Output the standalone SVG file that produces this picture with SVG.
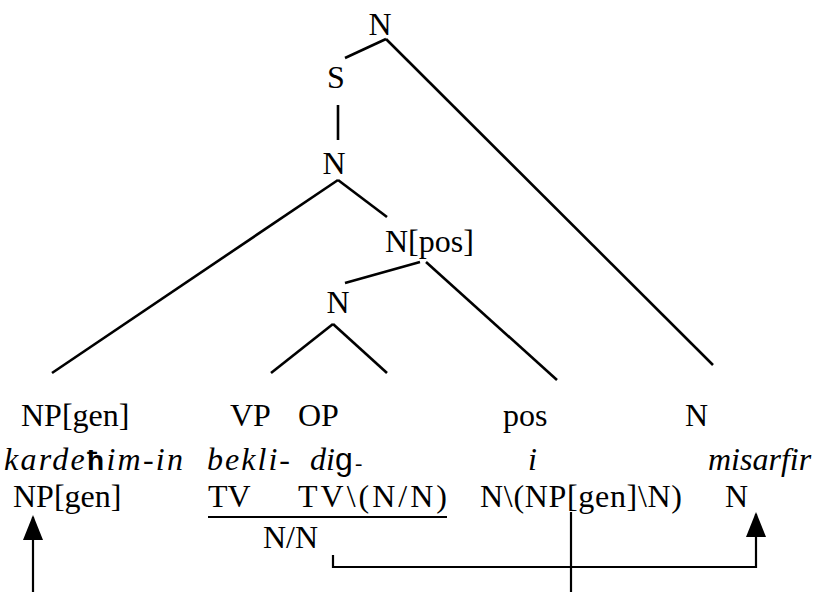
<svg xmlns="http://www.w3.org/2000/svg" width="816" height="592" viewBox="0 0 816 592">
<style>
.t{font-size:32px;fill:#000}
.it{font-style:italic}
.m{text-anchor:middle}
.br{stroke:#000;stroke-width:2.6;fill:none;stroke-linecap:butt}
.cn{stroke:#000;stroke-width:2.2;fill:none}
</style>
<defs>
<marker id="ah" markerUnits="userSpaceOnUse" viewBox="0 0 25 20" refX="23" refY="10" markerWidth="25" markerHeight="20" orient="auto">
<path d="M0,0 L25,10 L0,20 z" fill="#000"/>
</marker>
</defs>
<rect width="816" height="592" fill="#fff"/>
<g class="t" font-family="Liberation Serif, Times New Roman, Times, serif">
<g id="tree">
<g id="n-root"><text x="380" y="35" class="m">N</text></g>
<g id="n-s"><text x="336" y="88" class="m">S</text></g>
<g id="n-n1"><text x="334" y="174" class="m">N</text></g>
<g id="n-npos"><text x="385" y="252">N[pos]</text></g>
<g id="n-n2"><text x="338" y="313" class="m">N</text></g>
</g>
<g id="row1">
<g id="c1"><text x="21" y="426">NP[gen]</text></g>
<g id="c2"><text x="230" y="426">VP</text></g>
<g id="c3"><text x="298" y="426">OP</text></g>
<g id="c4"><text x="503" y="426">pos</text></g>
<g id="c5"><text x="685" y="426">N</text></g>
</g>
<g id="row2">
<g id="w1"><text x="4" y="470" class="it" textLength="179" lengthAdjust="spacing">karde<tspan font-family="Liberation Sans, Arial, sans-serif" font-style="normal" font-weight="bold" font-size="28">ħ</tspan>im-in</text></g>
<g id="w2"><text x="207" y="470" class="it" textLength="83" lengthAdjust="spacing">bekli-</text></g>
<g id="w3"><text x="310" y="470" class="it">di<tspan font-family="Liberation Sans, Arial, sans-serif" font-style="normal">g</tspan><tspan x="355" font-size="22">-</tspan></text></g>
<g id="w4"><text x="528" y="470" class="it">i</text></g>
<g id="w5"><text x="708" y="470" class="it">misarfir</text></g>
</g>
<g id="row3">
<g id="t1"><text x="13" y="507">NP[gen]</text></g>
<g id="t2"><text x="208" y="507">TV</text></g>
<g id="t3"><text x="298" y="507" textLength="149" lengthAdjust="spacing">TV\(N/N)</text></g>
<g id="t4"><text x="480" y="507" textLength="202" lengthAdjust="spacing">N\(NP[gen]\N)</text></g>
<g id="t5"><text x="725" y="507">N</text></g>
<g id="t6"><text x="263" y="548">N/N</text></g>
</g>
</g>
<g id="connectors">
<line class="br" x1="386" y1="39" x2="345" y2="58"/>
<line class="br" x1="386" y1="39" x2="713" y2="365"/>
<line class="br" x1="338" y1="105" x2="338" y2="140"/>
<line class="br" x1="338" y1="180" x2="52" y2="373"/>
<line class="br" x1="338" y1="180" x2="387" y2="217"/>
<line class="br" x1="420" y1="262" x2="345" y2="283"/>
<line class="br" x1="426" y1="262" x2="557" y2="380"/>
<line class="br" x1="333" y1="324" x2="271" y2="373"/>
<line class="br" x1="333" y1="324" x2="387" y2="373"/>
<line class="cn" x1="208" y1="517" x2="447" y2="517"/>
<polyline class="cn" points="333,555 333,567 756,567 756,514" marker-end="url(#ah)"/>
<line class="cn" x1="33" y1="592" x2="33" y2="517" marker-end="url(#ah)"/>
<line class="cn" x1="571" y1="512" x2="571" y2="592"/>
</g>
</svg>
